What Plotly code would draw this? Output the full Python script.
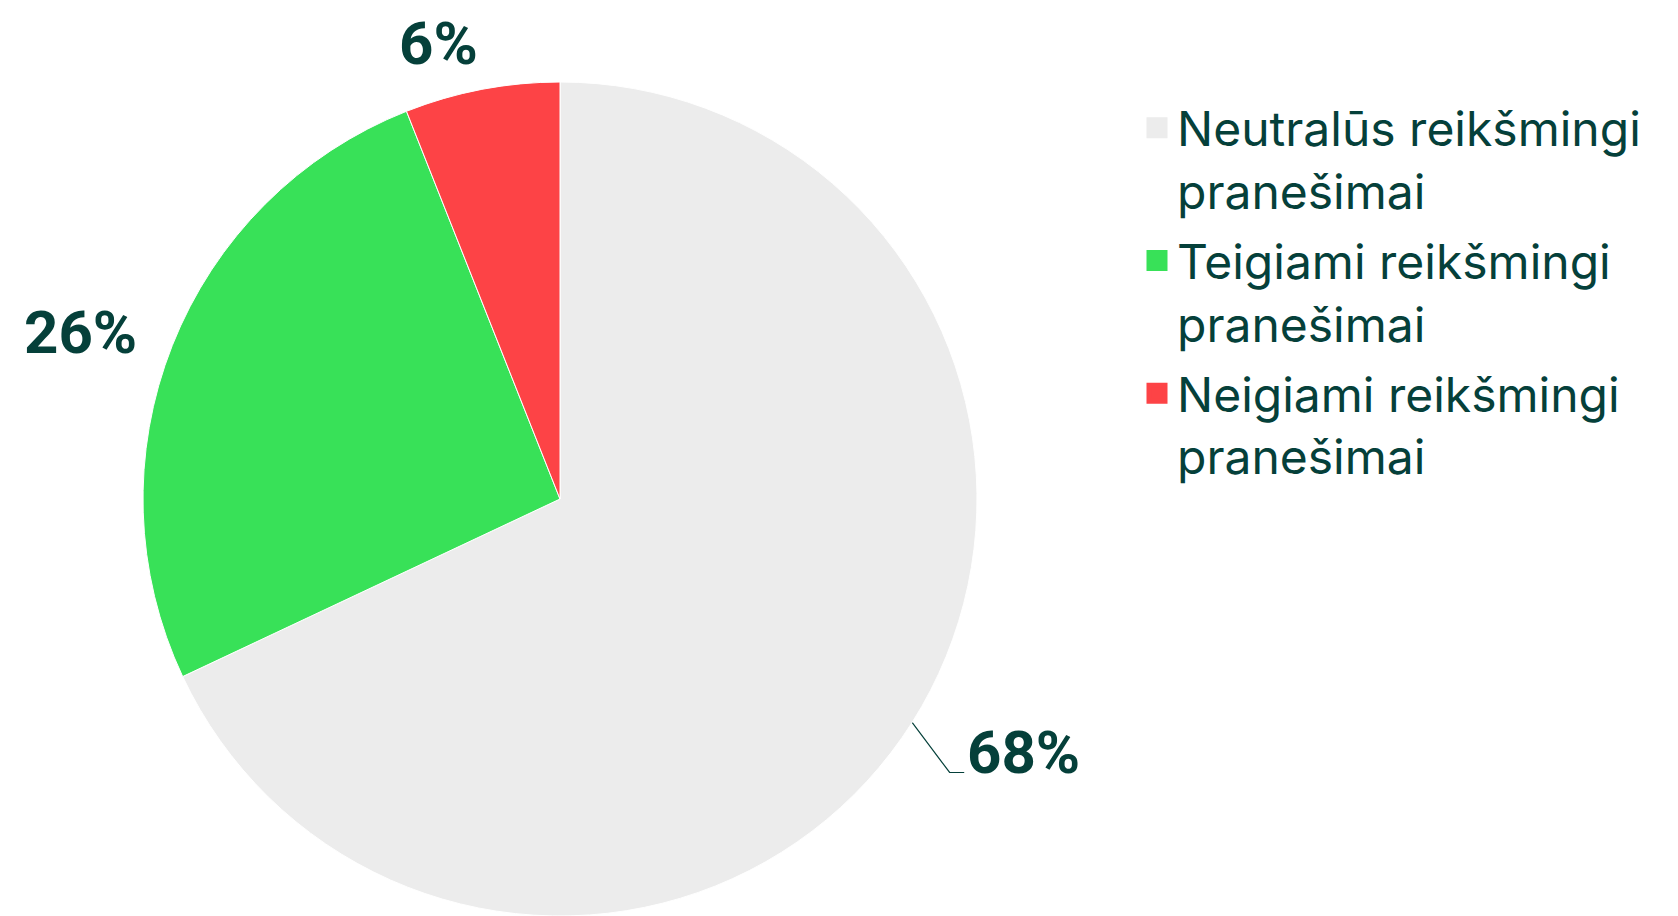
import math
import plotly.graph_objects as go

labels = ['Neutralūs reikšmingi<br>pranešimai', 'Teigiami reikšmingi<br>pranešimai', 'Neigiami reikšmingi<br>pranešimai']
values = [68, 26, 6]
colors = ['#ececec', '#38e158', '#fd4346']

text_color = '#05403a'
label_font = dict(family='Roboto', size=60, color=text_color, weight='bold')

# figure size and pie placement in pixels
W, H = 1670, 908
cx, cy, rad = 552, 491, 417

fig = go.Figure()
fig.add_trace(go.Pie(
    labels=labels,
    values=values,
    sort=False,
    direction='clockwise',
    rotation=0,
    marker=dict(colors=colors, line=dict(color='white', width=1)),
    textinfo='none',
    domain=dict(x=[(cx - rad) / W, (cx + rad) / W], y=[(H - cy - rad) / H, (H - cy + rad) / H]),
    hoverinfo='label+percent',
    showlegend=False,
))

# percentage labels around the pie, placed from each slice's mid angle
# (axes are scaled so that 1 unit = pie radius, origin = pie centre)
total = sum(values)
cum = 0
for v in values:
    mid = 2 * math.pi * (cum + v / 2) / total
    cum += v
    sx, sy = math.sin(mid), math.cos(mid)
    pct = f'{round(100 * v / total)}%'
    if sy < 0:
        # lower half: leader line with a short horizontal tail
        ex, ey = sx + 0.09, sy - 0.12
        tx = ex + 0.035
        fig.add_trace(go.Scatter(
            x=[sx, ex, tx], y=[sy, ey, ey], mode='lines',
            line=dict(color=text_color, width=1.2),
            hoverinfo='skip', showlegend=False,
        ))
        fig.add_annotation(x=tx + 0.002, y=ey + 0.049, text=pct, showarrow=False,
                           xanchor='left', yanchor='middle', font=label_font)
    else:
        r = 1.005 + 0.087 * abs(sx)
        fig.add_annotation(x=sx * r, y=sy * r, text=pct, showarrow=False,
                           xanchor='right' if sx < 0 else 'left',
                           yanchor='bottom' if sy > 0.9 else 'middle',
                           font=label_font)

# legend entries with bigger square swatches than the pie legend allows
for name, col in zip(labels, colors):
    fig.add_trace(go.Scatter(
        x=[None], y=[None], mode='markers', name=name, legendgroup=name,
        marker=dict(symbol='square', size=16, color=col, line=dict(color=col, width=5)),
        hoverinfo='skip',
    ))

fig.update_layout(
    width=W,
    height=H,
    margin=dict(l=0, r=0, t=0, b=0),
    paper_bgcolor='white',
    plot_bgcolor='white',
    xaxis=dict(visible=False, range=[-cx / rad, (W - cx) / rad], fixedrange=True),
    yaxis=dict(visible=False, range=[-(H - cy) / rad, cy / rad], fixedrange=True),
    legend=dict(
        x=1129 / W,
        y=1 - 82 / H,
        xanchor='left',
        yanchor='top',
        valign='top',
        font=dict(family='Inter', size=48, color=text_color),
        itemsizing='trace',
        tracegroupgap=5,
    ),
)

fig.write_html('out.html')
